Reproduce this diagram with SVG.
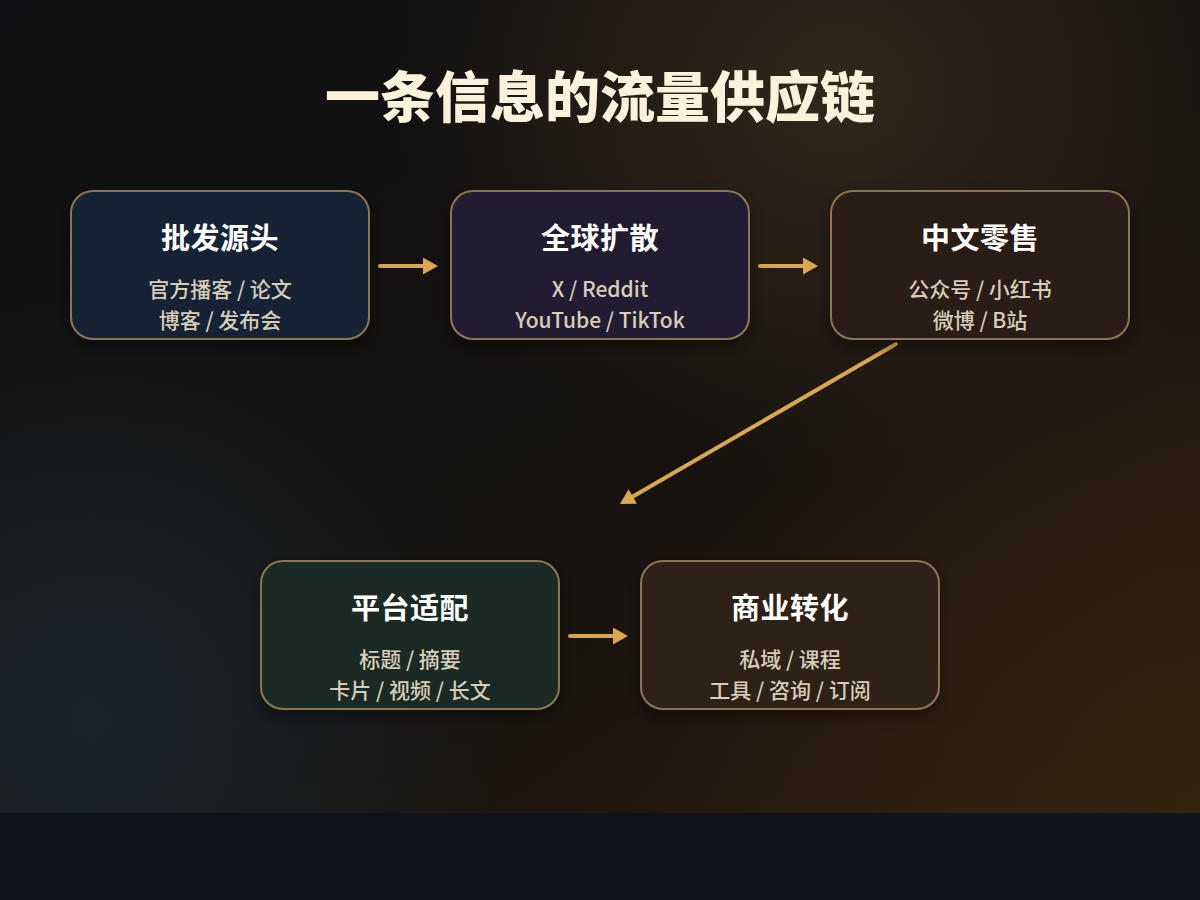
<svg xmlns="http://www.w3.org/2000/svg" width="1200" height="900" viewBox="0 0 1200 900">
  <defs>
    <linearGradient id="bgBase" x1="0" y1="0" x2="1" y2="1">
      <stop offset="0" stop-color="#101114"/>
      <stop offset="0.55" stop-color="#15120f"/>
      <stop offset="1" stop-color="#2e1e0f"/>
    </linearGradient>
    <radialGradient id="glowWarm" cx="840" cy="90" r="440" gradientUnits="userSpaceOnUse" gradientTransform="translate(840 90) scale(1 0.9) translate(-840 -90)">
      <stop offset="0" stop-color="#33271a" stop-opacity="1"/>
      <stop offset="0.5" stop-color="#2c2216" stop-opacity="0.7"/>
      <stop offset="1" stop-color="#2c2216" stop-opacity="0"/>
    </radialGradient>
    <radialGradient id="glowBR" cx="1200" cy="813" r="560" gradientUnits="userSpaceOnUse">
      <stop offset="0" stop-color="#35230f" stop-opacity="0.95"/>
      <stop offset="1" stop-color="#35230f" stop-opacity="0"/>
    </radialGradient>
    <radialGradient id="glowCool" cx="90" cy="720" r="420" gradientUnits="userSpaceOnUse">
      <stop offset="0" stop-color="#1b242c" stop-opacity="1"/>
      <stop offset="0.55" stop-color="#1a2227" stop-opacity="0.6"/>
      <stop offset="1" stop-color="#1a2227" stop-opacity="0"/>
    </radialGradient>
    <filter id="shadow" x="-20%" y="-20%" width="140%" height="150%">
      <feDropShadow dx="0" dy="6" stdDeviation="8" flood-color="#000" flood-opacity="0.45"/>
    </filter>
    <marker id="arrow" markerWidth="16" markerHeight="18" refX="1" refY="8.5" orient="auto" markerUnits="userSpaceOnUse">
      <path d="M0,0 L15,8.5 L0,17 Z" fill="#d9a84e"/>
    </marker>
    <style>
      .box { stroke: #8c7453; stroke-width: 2; filter: url(#shadow); }
      .ttl { font-family: "Noto Sans CJK SC", "Inter", sans-serif; font-weight: 700; font-size: 29px; letter-spacing: 0.5px; fill: #ffffff; text-anchor: middle; }
      .sub { font-family: "Noto Sans CJK SC", "Inter", sans-serif; font-weight: 500; font-size: 21px; fill: #d8cdb8; text-anchor: middle; }
      .conn { stroke: #d9a84e; stroke-width: 4; stroke-linecap: round; fill: none; marker-end: url(#arrow); }
    </style>
  </defs>

  <rect x="0" y="0" width="1200" height="900" fill="#10131b"/>
  <rect x="0" y="0" width="1200" height="813" fill="url(#bgBase)"/>
  <rect x="0" y="0" width="1200" height="813" fill="url(#glowWarm)"/>
  <rect x="0" y="0" width="1200" height="813" fill="url(#glowBR)"/>
  <rect x="0" y="0" width="1200" height="813" fill="url(#glowCool)"/>

  <text x="600" y="117" font-family="'Noto Sans CJK SC', sans-serif" font-weight="900" font-size="55" fill="#fcf2dc" text-anchor="middle">一条信息的流量供应链</text>

  <g id="connectors">
    <line class="conn" x1="380" y1="266" x2="424" y2="266"/>
    <line class="conn" x1="760" y1="266" x2="804" y2="266"/>
    <line class="conn" x1="896" y1="344" x2="632" y2="497"/>
    <line class="conn" x1="570" y1="636" x2="614" y2="636"/>
  </g>

  <g id="node-wholesale">
    <rect class="box" x="71" y="191" width="298" height="148" rx="22" fill="#182036"/>
    <text class="ttl" x="220" y="249">批发源头</text>
    <text class="sub" x="220" y="297">官方播客 / 论文</text>
    <text class="sub" x="220" y="328">博客 / 发布会</text>
  </g>

  <g id="node-global">
    <rect class="box" x="451" y="191" width="298" height="148" rx="22" fill="#221d33"/>
    <text class="ttl" x="600" y="249">全球扩散</text>
    <text class="sub" x="600" y="297">X / Reddit</text>
    <text class="sub" x="600" y="328">YouTube / TikTok</text>
  </g>

  <g id="node-retail">
    <rect class="box" x="831" y="191" width="298" height="148" rx="22" fill="#291c15"/>
    <text class="ttl" x="980" y="249">中文零售</text>
    <text class="sub" x="980" y="297">公众号 / 小红书</text>
    <text class="sub" x="980" y="328">微博 / B站</text>
  </g>

  <g id="node-adapt">
    <rect class="box" x="261" y="561" width="298" height="148" rx="22" fill="#1d2b27"/>
    <text class="ttl" x="410" y="619">平台适配</text>
    <text class="sub" x="410" y="667">标题 / 摘要</text>
    <text class="sub" x="410" y="698">卡片 / 视频 / 长文</text>
  </g>

  <g id="node-monetize">
    <rect class="box" x="641" y="561" width="298" height="148" rx="22" fill="#2f2417"/>
    <text class="ttl" x="790" y="619">商业转化</text>
    <text class="sub" x="790" y="667">私域 / 课程</text>
    <text class="sub" x="790" y="698">工具 / 咨询 / 订阅</text>
  </g>
</svg>
